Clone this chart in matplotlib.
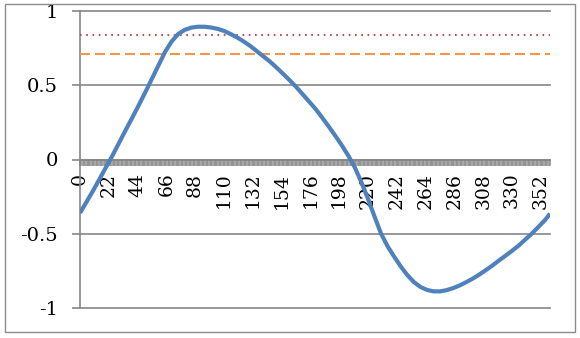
import matplotlib
matplotlib.use("Agg")
import matplotlib.pyplot as plt
from matplotlib.patches import Rectangle

# values (x in degrees, categories 0..359)
deg = [0, 5, 10, 15, 20, 25, 30, 35, 40, 45, 50, 55, 60, 65, 70, 75, 80, 85,
       90, 95, 100, 105, 110, 115, 120, 125, 130, 135, 140, 145, 150, 155,
       160, 165, 170, 175, 180, 185, 190, 195, 200, 205, 210, 215, 220, 225,
       230, 235, 240, 245, 250, 255, 260, 265, 270, 275, 280, 285, 290, 295,
       300, 305, 310, 315, 320, 325, 330, 335, 340, 345, 350, 355, 359]
curve = [-0.36, -0.285, -0.21, -0.13, -0.05, 0.03, 0.115, 0.20, 0.283, 0.368,
         0.455, 0.545, 0.635, 0.725, 0.795, 0.845, 0.873, 0.888,
         0.894, 0.894, 0.889, 0.88, 0.866, 0.845, 0.822, 0.795, 0.765, 0.73,
         0.695, 0.66, 0.62, 0.578, 0.535, 0.49, 0.44, 0.39, 0.34, 0.282, 0.222,
         0.16, 0.095, 0.025, -0.055, -0.155, -0.265, -0.385, -0.50, -0.585,
         -0.655, -0.72, -0.778, -0.825, -0.858, -0.878, -0.888, -0.888, -0.88,
         -0.866, -0.848, -0.826, -0.802, -0.775, -0.745, -0.714, -0.68, -0.648,
         -0.615, -0.58, -0.54, -0.50, -0.455, -0.41, -0.365]
red_level = 0.84
orange_level = 0.71
n_cat = 360
xtick_vals = list(range(0, n_cat, 22))
ytick_vals = [-1, -0.5, 0, 0.5, 1]
ytick_labels = ['-1', '-0.5', '0', '0.5', '1']

plt.rcParams['font.family'] = ['DejaVu Serif', 'Liberation Serif']
gray = '#868686'

fig = plt.figure(figsize=(5.8, 3.38), dpi=100)
fig.patches.append(Rectangle((5/580, 6/338), 570/580, 328/338, transform=fig.transFigure,
                             fill=False, edgecolor='#8c8c8c', linewidth=1.0))
ax = fig.add_axes([80/580, 1 - 308/338, 470/580, 297/338])

ax.plot(deg, curve, color='#4F81BD', linewidth=3.0, zorder=5,
        solid_capstyle='butt', solid_joinstyle='round')
ax.axhline(red_level, color='#C0504D', linewidth=1.5, linestyle=(0, (0.8, 2.2)), zorder=4)
ax.axhline(orange_level, color='#F79646', linewidth=1.5, linestyle=(0, (4.8, 2.4)), zorder=4)

ax.set_xlim(0, n_cat - 1)
ax.set_ylim(-1, 1)

for s in ['top', 'right']:
    ax.spines[s].set_visible(False)
ax.spines['left'].set_color(gray)
ax.spines['left'].set_linewidth(1.2)
ax.spines['bottom'].set_position(('data', 0))
ax.spines['bottom'].set_color(gray)
ax.spines['bottom'].set_linewidth(1.2)

ax.set_yticks(ytick_vals)
ax.set_yticklabels(ytick_labels)
ax.yaxis.grid(True, color=gray, linewidth=1.2)
for gl in ax.get_ygridlines():
    gl.set_clip_on(False)
ax.set_axisbelow(True)
ax.tick_params(axis='y', direction='out', length=6, width=1.2, color=gray,
               labelsize=14, pad=10)

ax.set_xticks(xtick_vals)
ax.set_xticks(range(n_cat), minor=True)
ax.set_xticklabels([str(v) for v in xtick_vals], rotation=90, va='top', ha='center')
ax.tick_params(axis='x', which='both', direction='out', length=4.5, width=1.1, color='#8e8e8e')
ax.tick_params(axis='x', which='major', labelsize=13.5, pad=5)

fig.savefig('out.png', dpi=100)
